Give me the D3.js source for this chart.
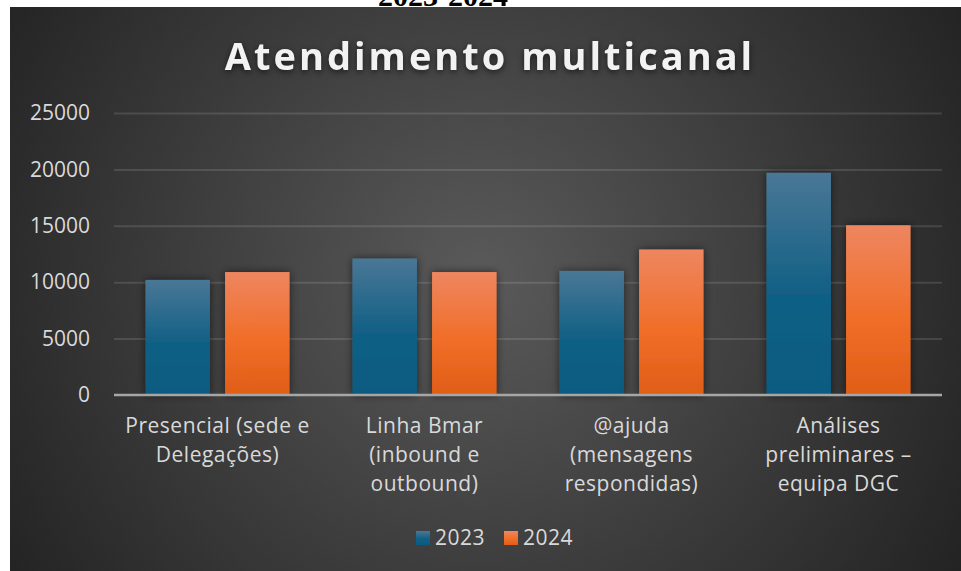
<!DOCTYPE html>
<html>
<head>
<meta charset="utf-8">
<script src="https://cdn.jsdelivr.net/npm/d3@7"></script>
<style>
  body { margin: 0; background: #fff; }
  svg { display: block; }
  text { font-family: "Open Sans", "Noto Sans", sans-serif; }
</style>
</head>
<body>
<div id="chart"></div>
<script>
// data
var categories = ["Presencial (sede e\nDelegações)", "Linha Bmar\n(inbound e\noutbound)", "@ajuda\n(mensagens\nrespondidas)", "Análises\npreliminares –\nequipa DGC"]
var series = ["2023", "2024"]
var values2023 = [10200, 12100, 11000, 19700]
var values2024 = [10900, 10900, 12900, 15050]
var yTicks = [0, 5000, 10000, 15000, 20000, 25000]

var width = 961
    height = 571
    margin = {top: 113, right: 19, bottom: 176, left: 114}

var rows = categories.map(function(c, i) {
    return {cat: c, vals: [values2023[i], values2024[i]]}
})

var svg = d3.select("#chart")
            .append("svg")
            .attr("width", width)
            .attr("height", height)

var defs = svg.append("defs")

// background radial gradient
var bg = defs.append("radialGradient")
             .attr("id", "bg")
             .attr("gradientUnits", "userSpaceOnUse")
             .attr("cx", 480).attr("cy", 280).attr("r", 560)
bg.append("stop").attr("offset", "0%").attr("stop-color", "#5a5a5a")
bg.append("stop").attr("offset", "100%").attr("stop-color", "#232323")

// bar gradients
var colors = {
    "2023": ["#4a7796", "#116085", "#0b5a80"],
    "2024": ["#ee8660", "#f06e28", "#e05d17"]
}
series.forEach(function(s) {
    var g = defs.append("linearGradient")
                .attr("id", "g" + s)
                .attr("x1", 0).attr("y1", 0).attr("x2", 0).attr("y2", 1)
    g.append("stop").attr("offset", "0%").attr("stop-color", colors[s][0])
    g.append("stop").attr("offset", "55%").attr("stop-color", colors[s][1])
    g.append("stop").attr("offset", "100%").attr("stop-color", colors[s][2])
})

var shadow = defs.append("filter")
                 .attr("id", "shadow")
                 .attr("x", "-30%").attr("y", "-30%").attr("width", "160%").attr("height", "160%")
shadow.append("feDropShadow")
      .attr("dx", 0).attr("dy", 0)
      .attr("stdDeviation", 4)
      .attr("flood-color", "#000")
      .attr("flood-opacity", 0.55)

// heading above the chart box, cut off as in the source picture
svg.append("text")
   .text("2023-2024")
   .attr("x", 443)
   .attr("y", 6)
   .attr("text-anchor", "middle")
   .style("font-family", "Liberation Serif")
   .style("font-weight", "bold")
   .style("font-size", "30px")
   .style("fill", "#000")

svg.append("rect")
   .attr("x", 10).attr("y", 7)
   .attr("width", width - 10).attr("height", height - 7)
   .style("fill", "url(#bg)")

// title
svg.append("text")
   .text("Atendimento multicanal")
   .attr("x", 490)
   .attr("y", 70)
   .attr("text-anchor", "middle")
   .style("font-size", "38px")
   .style("font-weight", "bold")
   .style("letter-spacing", "3px")
   .style("fill", "#f2f2f2")
   .style("filter", "drop-shadow(0px 2px 3px rgba(0,0,0,0.6))")

var x0 = d3.scaleBand()
           .domain(categories)
           .range([margin.left, width - margin.right])
           .paddingInner(0.304)
           .paddingOuter(0.152)

var x1 = d3.scaleBand()
           .domain(series)
           .range([0, x0.bandwidth()])
           .paddingInner(0.19)

var y = d3.scaleLinear()
          .domain([0, 25000])
          .range([height - margin.bottom, margin.top])

// gridlines
var grid = svg.append("g")
              .attr("transform", "translate(" + margin.left + ",0)")
              .call(d3.axisLeft(y).tickValues(yTicks.slice(1)).tickSize(-(width - margin.left - margin.right)).tickFormat(""))
grid.select(".domain").remove()
grid.selectAll("line")
    .style("stroke", "#ffffff")
    .style("stroke-opacity", 0.12)
    .style("stroke-width", 2)

// y labels
var yAxis = svg.append("g")
               .attr("transform", "translate(" + margin.left + ",0)")
               .call(d3.axisLeft(y).tickValues(yTicks).tickSize(0).tickPadding(24).tickFormat(d3.format("d")))
yAxis.select(".domain").remove()
yAxis.selectAll("text")
     .style("font-size", "21px")
     .style("font-family", "Open Sans")
     .style("fill", "#d9d9d9")

// bars
var groups = svg.append("g")
                .selectAll("g")
                .data(rows)
                .enter()
                .append("g")
                .attr("transform", function(d) { return "translate(" + x0(d.cat) + ",0)" })

groups.selectAll("rect")
      .data(function(d) { return d.vals.map(function(v, i) { return {s: series[i], v: v} }) })
      .enter()
      .append("rect")
      .attr("x", function(d) { return x1(d.s) })
      .attr("y", function(d) { return y(d.v) })
      .attr("width", x1.bandwidth())
      .attr("height", function(d) { return y(0) - y(d.v) })
      .style("fill", function(d) { return "url(#g" + d.s + ")" })
      .style("filter", "url(#shadow)")

// baseline
svg.append("line")
   .attr("x1", margin.left).attr("x2", width - margin.right)
   .attr("y1", y(0)).attr("y2", y(0))
   .style("stroke", "#a6a6a6")
   .style("stroke-width", 2.5)

// category labels
var xAxis = svg.append("g")
               .attr("transform", "translate(0," + y(0) + ")")
               .call(d3.axisBottom(x0).tickSize(0).tickFormat(""))
xAxis.select(".domain").remove()
xAxis.selectAll(".tick").each(function(d) {
    var t = d3.select(this).append("text")
              .attr("text-anchor", "middle")
              .style("font-size", "21px")
              .style("letter-spacing", "0.5px")
              .style("fill", "#d9d9d9")
    d.split("\n").forEach(function(line, i) {
        t.append("tspan")
         .attr("x", 0)
         .attr("y", 38 + i * 29)
         .text(line)
    })
})

// legend
var legend = svg.append("g")
                .selectAll("g")
                .data(series)
                .enter()
                .append("g")
                .attr("transform", function(d, i) { return "translate(" + (416 + i * 88) + ",531)" })
legend.append("rect")
      .attr("width", 14).attr("height", 14)
      .style("fill", function(d) { return "url(#g" + d + ")" })
legend.append("text")
      .text(function(d) { return d })
      .attr("x", 19)
      .attr("y", 14)
      .style("font-size", "21px")
      .style("letter-spacing", "0.5px")
      .style("fill", "#d9d9d9")
</script>
</body>
</html>
